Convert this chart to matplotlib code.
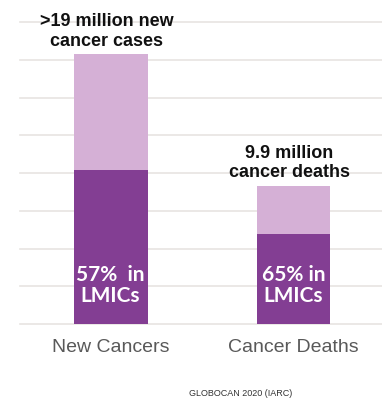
import numpy as np
from matplotlib import pyplot as plt

# global cancer burden, millions (GLOBOCAN 2020)
categories = ['New Cancers', 'Cancer Deaths']
totals = [19.3, 9.9]
lmic_share = [0.57, 0.65]
top_labels = ['>19 million new\ncancer cases', '9.9 million\ncancer deaths']
bar_labels = ['57%  in\nLMICs', '65% in\nLMICs']
source = 'GLOBOCAN 2020 (IARC)'

dark = '#833e93'
light = '#d5b0d6'
grid_col = '#e8e4e2'

fig = plt.figure(figsize=(3.82, 4.01), dpi=100)
ax = fig.add_axes([0.0524, 0.192, 0.9476, 0.753])

x = np.arange(len(categories))
totals = np.array(totals)
lmic = totals * np.array(lmic_share)

step = 2.7
for k in range(9):
    ax.axhline(k * step, color=grid_col, lw=1.2, zorder=0, clip_on=False)

ax.bar(x, lmic, width=0.404, color=dark, zorder=2)
ax.bar(x, totals - lmic, bottom=lmic, width=0.404, color=light, zorder=2)

for xi, top, lab in zip(x, totals, top_labels):
    ax.annotate(lab, xy=(xi, top), xytext=(-3, 3), textcoords='offset points',
                ha='center', va='bottom', fontsize=13, fontweight='bold',
                family='Liberation Sans', color='#111111', zorder=3,
                annotation_clip=False)

for xi, lab in zip(x, bar_labels):
    ax.annotate(lab, xy=(xi, 0), xytext=(0, 28), textcoords='offset points',
                ha='center', va='center', fontsize=15, fontweight='bold',
                family='Lato', color='white', linespacing=1.05, zorder=3)

ax.set_xlim(-0.495, 1.484)
ax.set_ylim(0, 8 * step)
ax.set_xticks(x, categories, fontsize=14, family='Liberation Sans', color='#595959')
ax.tick_params(axis='x', length=0, pad=11)
ax.set_yticks([])
for s in ax.spines.values():
    s.set_visible(False)

fig.text(241 / 382, 1 - 394 / 401, source, ha='center', va='center',
         fontsize=6.5, family='Liberation Sans', color='#333333')

fig.savefig('out.png', dpi=100)
